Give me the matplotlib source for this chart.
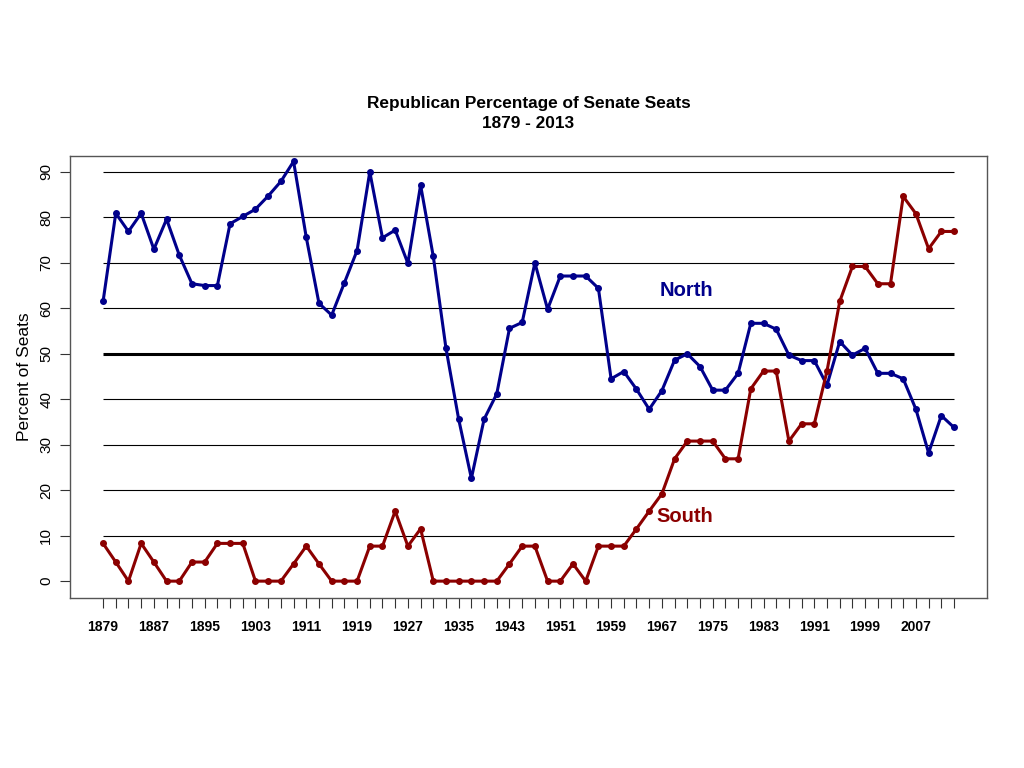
import numpy as np
import matplotlib
matplotlib.use('Agg')
import matplotlib.pyplot as plt

plt.rcParams['font.family'] = ['Liberation Sans', 'DejaVu Sans']

# 데이터
years = list(range(1879, 2014, 2))
north = [61.5, 80.9, 76.9, 80.9, 73.0, 79.6, 71.7, 65.4, 65.0, 65.0,
         78.6, 80.2, 81.8, 84.7, 87.9, 92.3, 75.6, 61.1, 58.5, 65.6,
         72.7, 90.0, 75.5, 77.2, 69.9, 87.1, 71.4, 51.2, 35.6, 22.6,
         35.6, 41.2, 55.6, 56.9, 70.0, 59.8, 67.1, 67.1, 67.1, 64.4,
         44.5, 46.1, 42.2, 37.8, 41.9, 48.6, 50.0, 47.2, 42.0, 42.0,
         45.7, 56.7, 56.7, 55.4, 49.7, 48.5, 48.5, 43.1, 52.7, 49.7,
         51.2, 45.7, 45.7, 44.5, 37.8, 28.2, 36.4, 33.8]
south = [8.3, 4.2, 0.0, 8.3, 4.2, 0.0, 0.0, 4.2, 4.2, 8.3,
         8.3, 8.3, 0.0, 0.0, 0.0, 3.8, 7.7, 3.8, 0.0, 0.0,
         0.0, 7.7, 7.7, 15.4, 7.7, 11.5, 0.0, 0.0, 0.0, 0.0,
         0.0, 0.0, 3.8, 7.7, 7.7, 0.0, 0.0, 3.8, 0.0, 7.7,
         7.7, 7.7, 11.5, 15.4, 19.2, 26.9, 30.8, 30.8, 30.8, 26.9,
         26.9, 42.3, 46.2, 46.2, 30.8, 34.6, 34.6, 46.2, 61.5, 69.2,
         69.2, 65.4, 65.4, 84.6, 80.8, 73.1, 76.9, 76.9]
label_years = years[::4][:17]
y_ticks = list(range(0, 100, 10))

north_col = '#00008B'
south_col = '#8B0000'

fig = plt.figure(figsize=(10.24, 7.68), dpi=100)
ax = fig.add_axes([0.0684, 0.2214, 0.8955, 0.5755])

# 수평 격자선
for v in y_ticks[1:]:
    if v == 50:
        ax.hlines(v, years[0], years[-1], color='black', lw=2.2, zorder=1)
    else:
        ax.hlines(v, years[0], years[-1], color='black', lw=0.8, zorder=1)

ax.plot(years, north, color=north_col, lw=2.2, marker='o', ms=4, zorder=3)
ax.plot(years, south, color=south_col, lw=2.2, marker='o', ms=4, zorder=3)

ax.text(1966.6, 64, 'North', color=north_col, fontsize=14.5, fontweight='bold', va='center')
ax.text(1966.1, 14.3, 'South', color=south_col, fontsize=14.5, fontweight='bold', va='center')

ax.set_xlim(1873.8, 2018.2)
ax.set_ylim(-3.7, 93.5)

ax.set_xticks(years)
ax.set_xticklabels([str(y) if y in label_years else '' for y in years],
                   fontsize=10, fontweight='bold')
ax.set_yticks(y_ticks)
ax.set_yticklabels([str(v) for v in y_ticks], rotation=90, va='center', fontsize=11)
ax.tick_params(axis='x', length=7, width=0.8, pad=9, colors='#333333', labelcolor='black')
ax.tick_params(axis='y', length=7, width=0.8, pad=5, colors='#333333', labelcolor='black')

for s in ax.spines.values():
    s.set_color('#555555')
    s.set_linewidth(1)

ax.set_ylabel('Percent of Seats', fontsize=12.5, labelpad=5)
ax.set_title('Republican Percentage of Senate Seats\n1879 - 2013',
             fontsize=12.4, fontweight='bold', pad=20, linespacing=1.45)

plt.savefig('out.png', dpi=100)
